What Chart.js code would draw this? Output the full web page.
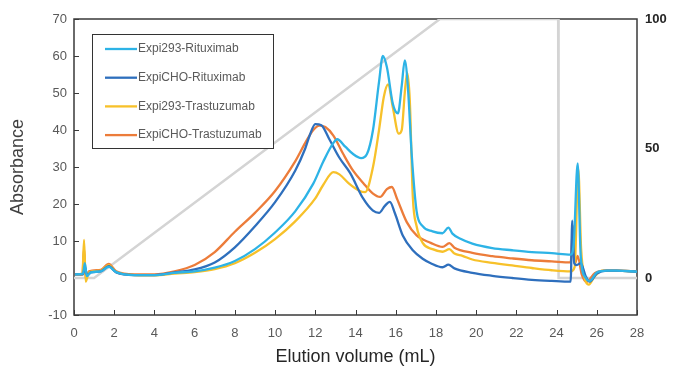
<!DOCTYPE html>
<html>
<head>
<meta charset="utf-8">
<script src="https://cdn.jsdelivr.net/npm/chart.js@4/dist/chart.umd.min.js"></script>
<style>
  html, body { margin: 0; padding: 0; background: #fff; }
  canvas { display: block; }
</style>
</head>
<body>
<canvas id="chart" width="676" height="383"></canvas>
<script>
// elution volume (mL) / absorbance
const rit293X = [0.05, 0.45, 0.54, 0.64, 0.84, 1.33, 1.73, 2.1, 3, 4, 5, 6, 7, 8, 9, 10, 11, 11.9, 12.4, 12.9, 13.09, 13.49, 13.88, 14.28, 14.57, 14.87, 15.17, 15.36, 15.56, 15.86, 16.11, 16.3, 16.45, 16.6, 16.8, 17.04, 17.34, 17.83, 18.33, 18.62, 18.82, 19.22, 19.81, 20.8, 21.79, 22.77, 23.76, 24.7, 24.85, 25.05, 25.2, 25.45, 25.65, 26, 26.5, 27, 28];
const rit293Y = [1.0, 1.2, 4, 0.5, 1.5, 1.8, 3.0, 1.6, 0.8, 0.8, 1.4, 1.8, 2.8, 4.6, 7.8, 12.3, 18, 25.5, 31.5, 36.5, 37.5, 35.5, 33.5, 32.4, 33.5, 40, 53, 60, 57, 47, 44.5, 52, 58.8, 52, 33, 18, 14, 12.6, 12.1, 13.6, 12, 10.6, 9.3, 8.1, 7.5, 7.0, 6.7, 6.3, 9, 31, 6, 0, -0.8, 1.5, 2.0, 2.0, 1.7];

const ritChoX = [0.05, 0.45, 0.54, 0.64, 0.84, 1.33, 1.73, 2.1, 3, 4, 5, 6, 7, 8, 9, 10, 11, 11.5, 11.72, 12.0, 12.3, 12.7, 13.2, 13.73, 14.38, 14.87, 15.17, 15.46, 15.71, 15.96, 16.35, 16.85, 17.34, 17.74, 18.33, 18.62, 18.92, 19.81, 20.8, 21.79, 22.77, 23.76, 24.7, 24.78, 24.88, 25.0, 25.2, 25.45, 25.65, 26, 26.5, 27, 28];
const ritChoY = [1.0, 1.0, 3, 0.8, 1.5, 1.8, 3.2, 1.5, 0.8, 0.8, 1.5, 2.3, 4.2, 8.3, 14, 20.5, 29, 35, 38.5, 41.6, 41.3, 37.5, 32.5, 28.4, 21.5, 18.2, 17.6, 19.5, 20.6, 17.5, 11.5, 7.5, 5.2, 4.0, 2.9, 3.6, 2.6, 1.4, 0.6, 0, -0.5, -0.8, -1.0, 15.5, 4, 3.5, 4, 0.5, -1, 1.2, 2, 2, 1.7];

const tra293X = [0.05, 0.42, 0.5, 0.58, 0.74, 1.33, 1.73, 2.1, 3, 4, 5, 6, 7, 8, 9, 10, 11, 12, 12.4, 12.9, 13.2, 13.68, 14.18, 14.48, 14.87, 15.17, 15.41, 15.62, 15.86, 16.15, 16.3, 16.45, 16.57, 16.7, 16.85, 17.04, 17.34, 17.83, 18.33, 18.67, 18.92, 19.32, 19.81, 20.8, 21.79, 22.77, 23.76, 24.7, 24.9, 25.08, 25.22, 25.4, 25.6, 25.9, 26.3, 27, 28];
const tra293Y = [1.0, 1, 10.3, -1, 1.5, 2, 3.5, 1.6, 0.8, 0.7, 1.2, 1.6, 2.4, 4.0, 6.8, 10.5, 15.3, 21.5, 25.2, 28.6, 28, 25.5, 23.6, 23.2, 30, 40, 49, 52.3, 46, 39, 40, 50, 55.5, 48, 22, 14, 9.5, 7.8, 7.1, 7.8, 6.6, 6, 5.0, 4.1, 3.4, 2.7, 2.1, 1.8, 3, 29.5, 8, 0, -1.8, 0.5, 2, 2, 1.7];

const traChoX = [0.05, 0.42, 0.5, 0.58, 0.74, 1.33, 1.73, 2.1, 3, 4, 5, 6, 7, 8, 9, 10, 11, 11.5, 11.9, 12.2, 12.5, 12.9, 13.39, 13.88, 14.38, 14.87, 15.22, 15.56, 15.81, 16.06, 16.55, 17.04, 17.74, 18.33, 18.67, 18.92, 19.81, 20.8, 21.79, 22.77, 23.76, 24.7, 24.82, 24.92, 25.05, 25.25, 25.5, 25.9, 26.4, 27, 28];
const traChoY = [1.0, 1, 8, 0, 1.8, 2.2, 3.8, 1.8, 1.0, 1.0, 1.8, 3.5, 7, 12.5, 17.6, 23.5, 31.5, 36.5, 40, 41.2, 40.8, 38.5, 33.5, 29, 25.7, 22.8, 21.9, 24, 24.6, 21.5, 15.1, 11.5, 9.5, 8.4, 9.4, 8.2, 6.8, 5.9, 5.3, 4.8, 4.5, 4.2, 14, 4, 6, 1, -1, 1.3, 2, 2, 1.8];

// gradient (% buffer B, right axis)
const gradX = [0, 1.0, 18.2, 24.08, 24.1, 28];
const gradY = [0, 0, 100, 100, 0, 0];

const seriesNames = ['Expi293-Rituximab', 'ExpiCHO-Rituximab', 'Expi293-Trastuzumab', 'ExpiCHO-Trastuzumab'];
const seriesColors = ['#2db3e6', '#2e6fbd', '#f7c12a', '#ec7c3a'];
const rightTicks = [0, 50, 100];

const pts = (xs, ys) => xs.map((x, i) => ({ x: x, y: ys[i] }));
const allX = [rit293X, ritChoX, tra293X, traChoX];
const allY = [rit293Y, ritChoY, tra293Y, traChoY];

const datasets = seriesNames.map((name, i) => ({
    label: name,
    data: pts(allX[i], allY[i]),
    borderColor: seriesColors[i],
    borderWidth: 2.3,
    pointRadius: 0,
    cubicInterpolationMode: 'monotone',
    yAxisID: 'y'
}));
datasets.push({
    label: 'gradient',
    data: pts(gradX, gradY),
    borderColor: '#d4d4d4',
    borderWidth: 2.5,
    pointRadius: 0,
    tension: 0,
    yAxisID: 'y2'
});

// plot frame and inward tick marks
const frame = {
    id: 'frame',
    beforeDatasetsDraw(chart) {
        const { ctx, chartArea: a, scales } = chart;
        ctx.save();
        ctx.strokeStyle = '#3a3a3a';
        ctx.lineWidth = 1.5;
        ctx.strokeRect(a.left, a.top, a.right - a.left, a.bottom - a.top);
        ctx.lineWidth = 1;
        ctx.beginPath();
        scales.x.ticks.forEach(t => {
            const px = Math.round(scales.x.getPixelForValue(t.value)) + 0.5;
            ctx.moveTo(px, a.bottom);
            ctx.lineTo(px, a.bottom - 5);
        });
        scales.y.ticks.forEach(t => {
            const py = Math.round(scales.y.getPixelForValue(t.value)) + 0.5;
            ctx.moveTo(a.left, py);
            ctx.lineTo(a.left + 5, py);
        });
        ctx.stroke();
        ctx.restore();
    }
};

// boxed legend inside the plot
const boxLegend = {
    id: 'boxLegend',
    afterDraw(chart) {
        const ctx = chart.ctx;
        ctx.save();
        ctx.fillStyle = '#fff';
        ctx.fillRect(92, 34, 182, 115);
        ctx.strokeStyle = '#333';
        ctx.lineWidth = 1;
        ctx.strokeRect(92.5, 34.5, 181, 114);
        ctx.font = '12px "Liberation Sans", Arial, sans-serif';
        ctx.textBaseline = 'middle';
        seriesNames.forEach((name, i) => {
            const y = 49 + i * 28.7;
            ctx.strokeStyle = seriesColors[i];
            ctx.lineWidth = 2.3;
            ctx.beginPath();
            ctx.moveTo(105, y);
            ctx.lineTo(137, y);
            ctx.stroke();
            ctx.fillStyle = '#5a5a5a';
            ctx.fillText(name, 138, y);
        });
        ctx.restore();
    }
};

const font = '"Liberation Sans", Arial, sans-serif';

new Chart(document.getElementById('chart'), {
    type: 'line',
    data: { datasets: datasets },
    options: {
        responsive: false,
        animation: false,
        devicePixelRatio: 1,
        layout: { padding: { top: 19, left: 0, right: 0, bottom: 0 } },
        plugins: { legend: { display: false }, tooltip: { enabled: false } },
        scales: {
            x: {
                type: 'linear',
                min: 0,
                max: 28,
                ticks: { stepSize: 2, padding: 11, color: '#595959', font: { family: font, size: 13 } },
                grid: { display: false, drawTicks: false },
                border: { display: false },
                title: { display: true, text: 'Elution volume (mL)', color: '#262626', font: { family: font, size: 18 }, padding: { top: 0, bottom: 15 } },
                afterFit: s => { s.height = 68; }
            },
            y: {
                min: -10,
                max: 70,
                ticks: { stepSize: 10, padding: 7, color: '#595959', font: { family: font, size: 13 } },
                grid: { display: false, drawTicks: false },
                border: { display: false },
                title: { display: true, text: 'Absorbance', color: '#404040', font: { family: font, size: 18 }, padding: { top: 7, bottom: 0 } },
                afterFit: s => { s.width = 74; }
            },
            y2: {
                position: 'right',
                min: -100 / 7,
                max: 100,
                afterBuildTicks: s => { s.ticks = rightTicks.map(v => ({ value: v })); },
                ticks: { padding: 8, color: '#262626', font: { family: font, size: 13, weight: 'bold' } },
                grid: { display: false, drawTicks: false },
                border: { display: false },
                afterFit: s => { s.width = 39; }
            }
        }
    },
    plugins: [frame, boxLegend]
});
</script>
</body>
</html>
